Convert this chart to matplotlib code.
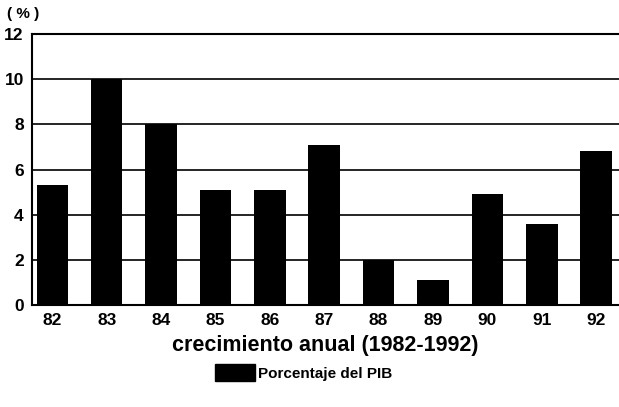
import matplotlib.pyplot as plt
from matplotlib.patches import Patch

years = ['82', '83', '84', '85', '86', '87', '88', '89', '90', '91', '92']
growth = [5.3, 10.0, 8.0, 5.1, 5.1, 7.1, 2.0, 1.1, 4.9, 3.6, 6.8]

plt.rcParams['font.family'] = ['Liberation Sans', 'DejaVu Sans']
plt.rcParams['font.weight'] = 'bold'

fig = plt.figure(figsize=(6.19, 4.07), dpi=100)
ax = fig.add_axes([0.052, 0.251, 0.948, 0.665])

x = list(range(len(years)))
ax.bar(x, growth, width=0.58, color='black', zorder=3)

ax.set_ylim(0, 12)
ax.set_xlim(-0.37, 10.42)
ax.set_yticks(range(0, 13, 2))
ax.set_xticks(x)
ax.set_xticklabels(years)
ax.yaxis.grid(True, color='black', linewidth=1.2, zorder=0)
ax.tick_params(axis='both', length=0, labelsize=12.5, pad=6)
for lbl in ax.get_xticklabels() + ax.get_yticklabels():
    lbl.set_fontweight('bold')

for s in ['left', 'bottom', 'top']:
    ax.spines[s].set_linewidth(1.5)
ax.spines['right'].set_visible(False)

ax.set_xlabel('crecimiento anual (1982-1992)', fontsize=15.5, fontweight='bold', labelpad=5)
fig.text(0.012, 0.965, '( % )', fontsize=11, fontweight='bold', va='center')

leg = fig.legend(handles=[Patch(color='black', label='Porcentaje del PIB')],
                 loc='center', bbox_to_anchor=(0.49, 0.085), frameon=False,
                 fontsize=11, handlelength=2.6, handleheight=1.3, handletextpad=0.2)
for t in leg.get_texts():
    t.set_fontweight('bold')

fig.savefig('out.png', dpi=100)
